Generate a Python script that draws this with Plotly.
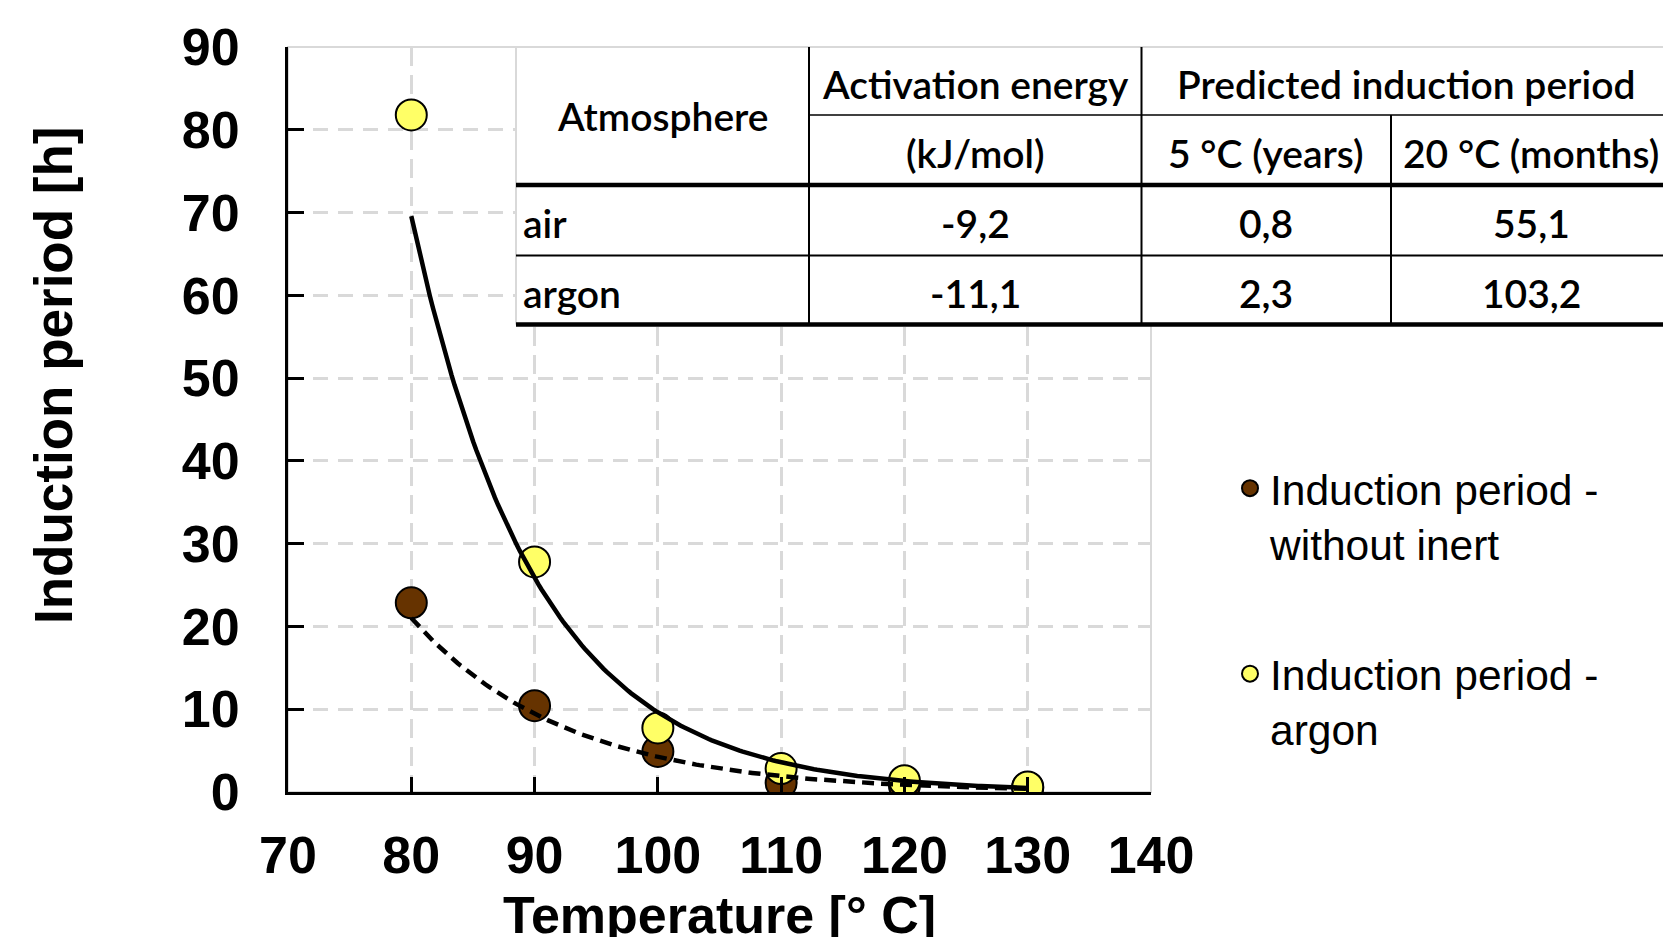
import numpy as np
import plotly.graph_objects as go

# ---------------- data ----------------
temperature = [80, 90, 100, 110, 120, 130]
ip_without_inert = [22.85, 10.43, 4.9, 1.09, 0.76, 0.55]
ip_argon = [81.8, 27.8, 7.74, 2.83, 1.37, 0.6]

x_ticks = [70, 80, 90, 100, 110, 120, 130, 140]
y_ticks = [0, 10, 20, 30, 40, 50, 60, 70, 80, 90]

legend_without_inert = "Induction period -<br>without inert"
legend_argon = "Induction period -<br>argon"
x_title = "Temperature [° C]"
y_title = "Induction period [h]"

table_col_atmosphere = "Atmosphere"
table_col_energy = ["Activation energy", "(kJ/mol)"]
table_col_predicted = "Predicted induction period"
table_sub_predicted = ["5 °C (years)", "20 °C (months)"]
table_atmosphere = ["air", "argon"]
table_activation_energy = ["-9,2", "-11,1"]
table_pred_5c_years = ["0,8", "2,3"]
table_pred_20c_months = ["55,1", "103,2"]

# ---------------- layout constants ----------------
W, H = 1663, 937
ML, MR, MT, MB = 288, 512, 47, 145
PW = W - ML - MR
PH = H - MT - MB


def px_x(px):
    return (px - ML) / PW


def px_y(py):
    return (H - MB - py) / PH


BROWN = "#663300"
YELLOW = "#FFFF66"
GRID = "#d9d9d9"
AXFONT = dict(family="Liberation Sans, Arial", size=52, color="black", weight="bold")
TFONT = dict(family="Lato, Roboto", size=39, color="black", weight=600)


def exp_trend(x, y):
    # Excel-style exponential trendline (least squares on ln y)
    b, a = np.polyfit(np.asarray(x, float), np.log(np.asarray(y, float)), 1)
    xs = np.linspace(min(x), max(x), 200)
    return xs, np.exp(a + b * xs)


fig = go.Figure()

fig.add_trace(go.Scatter(
    x=temperature, y=ip_without_inert, mode="markers", name=legend_without_inert,
    legendgroup="a",
    marker=dict(size=31, color=BROWN, line=dict(color="black", width=2)),
))
fig.add_trace(go.Scatter(
    x=temperature, y=ip_argon, mode="markers", name=legend_argon,
    legendgroup="b",
    marker=dict(size=31, color=YELLOW, line=dict(color="black", width=2)),
))

tx, ty = exp_trend(temperature, ip_without_inert)
fig.add_trace(go.Scatter(x=tx, y=ty, mode="lines", showlegend=False,
                         line=dict(color="black", width=4.5, dash="12px,7px")))
tx, ty = exp_trend(temperature, ip_argon)
fig.add_trace(go.Scatter(x=tx, y=ty, mode="lines", showlegend=False,
                         line=dict(color="black", width=4.5)))

# ---------------- axes ----------------
fig.update_xaxes(
    range=[70, 140], tickvals=x_ticks, ticktext=[str(v) for v in x_ticks],
    showline=True, linecolor="black", linewidth=3,
    ticks="inside", ticklen=15, tickwidth=3, tickcolor="black",
    showgrid=True, gridcolor=GRID, gridwidth=3, griddash="19px,9px",
    zeroline=False, tickfont=AXFONT, ticklabelstandoff=16,
)
fig.update_yaxes(
    range=[0, 90], tickvals=y_ticks, ticktext=[str(v) for v in y_ticks],
    showline=True, linecolor="black", linewidth=3,
    ticks="inside", ticklen=16, tickwidth=3, tickcolor="black",
    showgrid=True, gridcolor=GRID, gridwidth=3, griddash="15px,10px",
    zeroline=False, tickfont=AXFONT, ticklabelstandoff=35,
)

shapes = []
# light grey plot-area frame (top / right)
shapes.append(dict(type="rect", xref="paper", yref="paper", x0=0, x1=1, y0=0, y1=1,
                   line=dict(color=GRID, width=2), layer="below"))

# ---------------- inset table (geometry) ----------------
T_L, T_R = 516, 1671
T_TOP, T_MID, T_HEAD, T_ROW, T_BOT = 47, 115, 185, 255.5, 324.5
C1, C2, C3 = 809, 1141.5, 1391

shapes.append(dict(type="rect", xref="paper", yref="paper",
                   x0=px_x(T_L), x1=px_x(T_R + 20), y0=px_y(T_BOT), y1=px_y(T_TOP),
                   fillcolor="white", line=dict(width=0), layer="above"))


def hline(y, x0, x1, w, c="black"):
    shapes.append(dict(type="line", xref="paper", yref="paper",
                       x0=px_x(x0), x1=px_x(x1), y0=px_y(y), y1=px_y(y),
                       line=dict(color=c, width=w), layer="above"))


def vline(x, y0, y1, w, c="black"):
    shapes.append(dict(type="line", xref="paper", yref="paper",
                       x0=px_x(x), x1=px_x(x), y0=px_y(y0), y1=px_y(y1),
                       line=dict(color=c, width=w), layer="above"))


hline(T_TOP, ML, T_R + 20, 2, GRID)
vline(T_L, T_TOP, T_BOT, 2, GRID)
hline(T_MID, C1, T_R + 20, 1.5)
hline(T_HEAD, T_L, T_R + 20, 4.5)
hline(T_ROW, T_L, T_R + 20, 2)
hline(T_BOT, T_L, T_R + 20, 4.5)
vline(C1, T_TOP, T_BOT, 2)
vline(C2, T_TOP, T_BOT, 2)
vline(C3, T_MID, T_BOT, 2)

annotations = []


def cell(text, x, y, anchor="center"):
    annotations.append(dict(text=text, xref="paper", yref="paper",
                            x=px_x(x), y=px_y(y), xanchor=anchor, yanchor="middle",
                            showarrow=False, font=TFONT))


cell(table_col_atmosphere, (T_L + C1) / 2, 116)
cell(table_col_energy[0], (C1 + C2) / 2, (T_TOP + T_MID) / 2 + 3)
cell(table_col_energy[1], (C1 + C2) / 2, (T_MID + T_HEAD) / 2 + 3)
cell(table_col_predicted, (C2 + T_R) / 2, (T_TOP + T_MID) / 2 + 3)
cell(table_sub_predicted[0], (C2 + C3) / 2, (T_MID + T_HEAD) / 2 + 3)
cell(table_sub_predicted[1], (C3 + T_R) / 2, (T_MID + T_HEAD) / 2 + 3)
row_centers = [(T_HEAD + T_ROW) / 2 + 3, (T_ROW + T_BOT) / 2 + 3]
for i, yc in enumerate(row_centers):
    cell(table_atmosphere[i], T_L + 5, yc, anchor="left")
    cell(table_activation_energy[i], (C1 + C2) / 2, yc)
    cell(table_pred_5c_years[i], (C2 + C3) / 2, yc)
    cell(table_pred_20c_months[i], (C3 + T_R) / 2, yc)

# axis titles
YTFONT = dict(AXFONT, size=53)
annotations.append(dict(text=y_title, xref="paper", yref="paper", x=px_x(53), y=px_y(375),
                        xanchor="center", yanchor="middle", textangle=-90,
                        showarrow=False, font=YTFONT))
annotations.append(dict(text=x_title, xref="paper", yref="paper", x=0.5, y=px_y(884),
                        xanchor="center", yanchor="top",
                        showarrow=False, font=AXFONT))

fig.update_layout(
    width=W, height=H,
    margin=dict(l=ML, r=MR, t=MT, b=MB, autoexpand=False),
    paper_bgcolor="white", plot_bgcolor="white",
    shapes=shapes, annotations=annotations,
    legend=dict(x=px_x(1230), xanchor="left", y=px_y(454), yanchor="top",
                font=dict(family="Liberation Sans, Arial", size=42.5, color="black"),
                valign="top", tracegroupgap=72, bgcolor="rgba(0,0,0,0)",
                itemwidth=30),
    showlegend=True,
)

fig.write_html("out.html", config={"displayModeBar": False},
               post_script="document.body.style.margin='0';document.body.style.overflow='hidden';")
